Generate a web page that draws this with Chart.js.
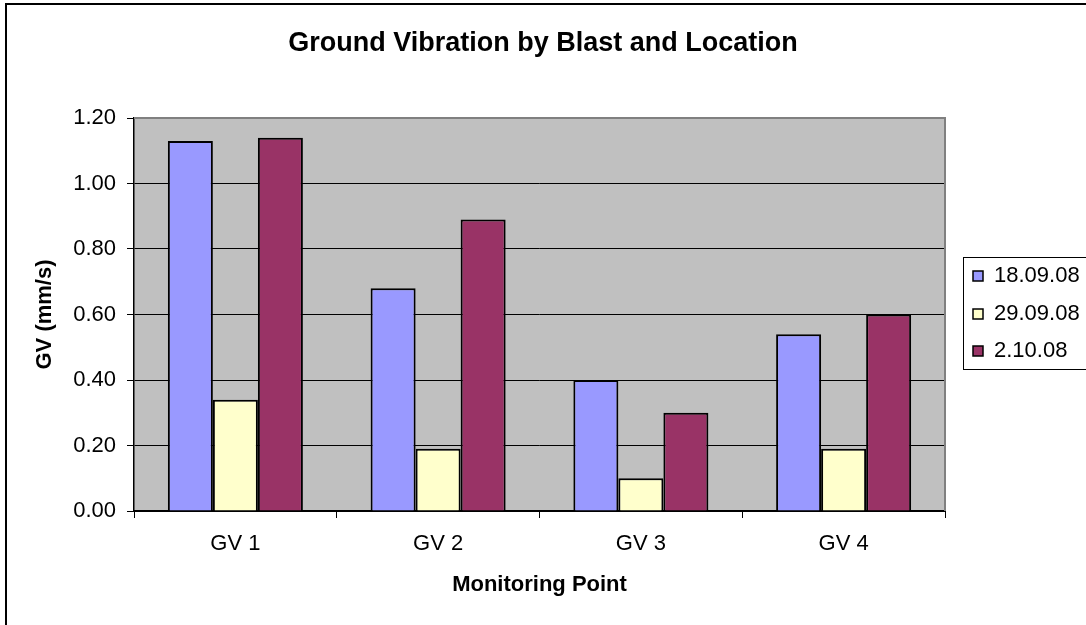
<!DOCTYPE html>
<html>
<head>
<meta charset="utf-8">
<script src="https://cdn.jsdelivr.net/npm/chart.js@4"></script>
<style>
  html, body { margin: 0; padding: 0; background: #fff; overflow: hidden; }
  #wrap { position: relative; width: 1086px; height: 625px; }
</style>
</head>
<body>
<div id="wrap"><canvas id="gvChart" width="1086" height="625"></canvas></div>
<script>
// Chart data
const points = ["GV 1", "GV 2", "GV 3", "GV 4"];
const blastDates = ["18.09.08", "29.09.08", "2.10.08"];
const gv180908 = [1.13, 0.68, 0.40, 0.54];
const gv290908 = [0.34, 0.19, 0.10, 0.19];
const gv021008 = [1.14, 0.89, 0.30, 0.60];
const yTicks = [0, 0.2, 0.4, 0.6, 0.8, 1.0, 1.2];

const FONT = "'Liberation Sans', Arial, sans-serif";
const fills = ["#9999FF", "#FFFFCC", "#993366"];

// grey plot background, grey top/right border, boxed legend, outer frame
const excelLook = {
    id: "excelLook",
    beforeDraw(chart) {
        const { ctx, chartArea: a } = chart;
        ctx.save();
        ctx.fillStyle = "#C0C0C0";
        ctx.fillRect(a.left, a.top, a.right - a.left, a.bottom - a.top);
        ctx.restore();
    },
    afterDraw(chart) {
        const { ctx, chartArea: a } = chart;
        ctx.save();
        // top and right edges of the plot
        ctx.strokeStyle = "#808080";
        ctx.lineWidth = 2;
        ctx.beginPath();
        ctx.moveTo(a.left, a.top);
        ctx.lineTo(a.right, a.top);
        ctx.lineTo(a.right, a.bottom);
        ctx.stroke();

        // legend box
        ctx.strokeStyle = "#000";
        ctx.lineWidth = 1;
        ctx.strokeRect(963.5, 257.5, 140, 112);
        const rows = [276, 314, 351];
        ctx.font = "22px " + FONT;
        ctx.textBaseline = "middle";
        ctx.textAlign = "left";
        chart.data.datasets.forEach((ds, i) => {
            ctx.fillStyle = ds.backgroundColor;
            ctx.fillRect(973, rows[i] - 5, 10, 10);
            ctx.strokeStyle = "#000";
            ctx.lineWidth = 1.5;
            ctx.strokeRect(973, rows[i] - 5, 10, 10);
            ctx.fillStyle = "#000";
            ctx.fillText(ds.label, 994, rows[i]);
        });

        // outer chart frame (left and top edges visible)
        ctx.strokeStyle = "#000";
        ctx.lineWidth = 2;
        ctx.beginPath();
        ctx.moveTo(6, 630);
        ctx.lineTo(6, 4);
        ctx.lineTo(1090, 4);
        ctx.stroke();
        ctx.restore();
    },
};

const ctx = document.getElementById("gvChart").getContext("2d");

const series = [gv180908, gv290908, gv021008];

new Chart(ctx, {
    type: "bar",
    data: {
        labels: points,
        datasets: blastDates.map((d, i) => ({
            label: d,
            data: series[i],
            backgroundColor: fills[i],
            borderColor: "#000",
            borderWidth: 2,
            categoryPercentage: 0.666,
            barPercentage: 1.0,
        })),
    },
    options: {
        responsive: false,
        animation: false,
        layout: { padding: 0 },
        plugins: {
            legend: { display: false },
            tooltip: { enabled: false },
            title: {
                display: true,
                text: "Ground Vibration by Blast and Location",
                color: "#000",
                font: { family: FONT, size: 27, weight: "bold", lineHeight: 1.2 },
                padding: { top: 27, bottom: 58.6 },
            },
        },
        scales: {
            x: {
                afterFit: (scale) => { scale.height = 114; },
                grid: {
                    display: true,
                    drawOnChartArea: false,
                    offset: true,
                    tickLength: 7,
                    tickColor: "#000",
                    color: "#000",
                },
                border: { color: "#000", width: 2 },
                ticks: {
                    color: "#000",
                    padding: 13,
                    font: { family: FONT, size: 22 },
                },
                title: {
                    display: true,
                    text: "Monitoring Point",
                    color: "#000",
                    font: { family: FONT, size: 22, weight: "bold", lineHeight: 1.2 },
                    padding: { top: 0, bottom: 27 },
                },
            },
            y: {
                min: 0,
                max: 1.2,
                afterFit: (scale) => { scale.width = 134; },
                afterBuildTicks: (scale) => {
                    scale.ticks = yTicks.map((v) => ({ value: v }));
                },
                grid: {
                    color: (c) => (c.tick && (c.tick.value === 1.2 || c.tick.value === 0) ? "rgba(0,0,0,0)" : "#000"),
                    lineWidth: 1,
                    tickLength: 7,
                    tickColor: "#000",
                },
                border: { color: "#000", width: 1.5 },
                ticks: {
                    color: "#000",
                    padding: 11,
                    font: { family: FONT, size: 22 },
                    callback: (v) => Number(v).toFixed(2),
                },
                title: {
                    display: true,
                    text: "GV (mm/s)",
                    color: "#000",
                    font: { family: FONT, size: 22, weight: "bold", lineHeight: 1.2 },
                    padding: { top: 32, bottom: 0 },
                },
            },
            // empty right-hand axis that just reserves the legend's space
            legendSpace: {
                type: "linear",
                position: "right",
                afterFit: (scale) => { scale.width = 141; },
                grid: { display: false },
                border: { display: false },
                ticks: { display: false },
            },
        },
    },
    plugins: [excelLook],
});
</script>
</body>
</html>
